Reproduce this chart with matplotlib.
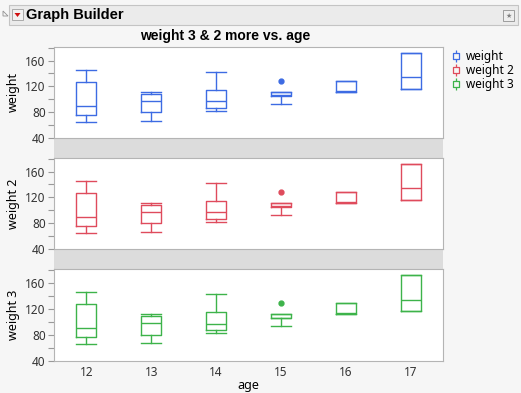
"""
weight / weight 2 / weight 3 by age, box plots in a Graph Builder style frame
"""
import matplotlib
matplotlib.use("Agg")
import matplotlib.pyplot as plt
from matplotlib.patches import Rectangle, Polygon
from matplotlib.lines import Line2D
from matplotlib.path import Path

# data (the three panels show the same numbers)
ages = [12, 13, 14, 15, 16, 17]
whislo = [65, 67, 82, 93, 112, 116]
q1 = [76, 80, 87, 105, 112, 116]
med = [90, 98, 97, 106, 113, 134]
q3 = [127, 108, 114, 112, 128, 172]
whishi = [145, 112, 142, 112, 128, 172]
outliers = [[], [], [], [128], [], []]

series = ["weight", "weight 2", "weight 3"]
colors = ["#3d6be3", "#df4b5c", "#3db34a"]

W, H = 521, 393
bg = "#f6f6f6"
gap_gray = "#dcdcdc"

plt.rcParams["font.family"] = ["Noto Sans", "DejaVu Sans"]
bold_font = ["Liberation Sans", "DejaVu Sans"]


def fx(px):
    return px / W


def fy(py):
    return 1 - py / H


fig = plt.figure(figsize=(W / 100, H / 100), dpi=100, facecolor=bg)

# header bar
fig.patches.append(Rectangle((fx(9), fy(25)), fx(509), 20 / H, transform=fig.transFigure,
                             facecolor="#ebebeb", edgecolor="#c4c4c4", lw=0.8))
fig.patches.append(Polygon([[fx(3), fy(11)], [fx(8), fy(16)], [fx(3), fy(16)]], closed=True,
                           transform=fig.transFigure, facecolor="none", edgecolor="#909090", lw=0.6))
fig.patches.append(Rectangle((fx(12), fy(20)), fx(11), 11 / H, transform=fig.transFigure,
                             facecolor="#f2f2f2", edgecolor="#a0a0a0", lw=0.6))
fig.patches.append(Polygon([[fx(14.5), fy(13)], [fx(20.5), fy(13)], [fx(17.5), fy(17)]], closed=True,
                           transform=fig.transFigure, facecolor="#d01010", edgecolor="none"))
fig.text(fx(26), fy(15), "Graph Builder", fontsize=10.5, fontweight="bold", va="center", ha="left",
         family=bold_font)
fig.patches.append(Rectangle((fx(503), fy(21)), fx(11), 11 / H, transform=fig.transFigure,
                             facecolor="#eeeeee", edgecolor="#909090", lw=0.6))
fig.text(fx(508.5), fy(15.5), "★", fontsize=5, color="#808080", ha="center", va="center",
         family="DejaVu Sans")

fig.text(fx(225), fy(36), "weight 3 & 2 more vs. age", fontsize=10, fontweight="bold",
         ha="center", va="center", family=bold_font)

# gray band behind the panels
fig.patches.append(Rectangle((fx(54), fy(360)), fx(389), 313 / H, transform=fig.transFigure,
                             facecolor=gap_gray, edgecolor="none", zorder=-1))

panels = [(47, 138), (158, 249), (269, 360.5)]
stats = []
for i in range(len(ages)):
    stats.append(dict(whislo=whislo[i], q1=q1[i], med=med[i], q3=q3[i],
                      whishi=whishi[i], fliers=outliers[i]))

for k, (top, bottom) in enumerate(panels):
    ax = fig.add_axes([fx(54), fy(bottom), fx(389), (bottom - top) / H])
    ax.set_facecolor("white")
    c = colors[k]
    ax.bxp(stats, positions=ages, widths=0.31, capwidths=0.31, showfliers=True,
           boxprops=dict(color=c, lw=1.0), whiskerprops=dict(color=c, lw=1.0),
           capprops=dict(color=c, lw=1.0), medianprops=dict(color=c, lw=1.0),
           flierprops=dict(marker="o", markersize=3.5, markerfacecolor=c,
                           markeredgecolor=c))
    ax.set_xlim(11.5, 17.5)
    ax.set_ylim(40, 181)
    ax.set_yticks([40, 80, 120, 160])
    ax.set_yticks([60, 100, 140, 180], minor=True)
    ax.tick_params(axis="y", which="both", direction="out", color="#999999",
                   labelsize=8.5, length=4, width=0.8, pad=2, labelcolor="#333333")
    ax.set_ylabel(series[k], fontsize=9, labelpad=4)
    for s in ax.spines.values():
        s.set_color("#b4b4b4")
        s.set_linewidth(0.8)
    if k < 2:
        ax.tick_params(axis="x", bottom=False, labelbottom=False)
    else:
        ax.set_xticks(ages)
        ax.set_xticklabels([str(a) for a in ages])
        ax.tick_params(axis="x", length=0, labelsize=8.5, pad=4, labelcolor="#333333")

fig.text(fx(248), fy(385), "age", fontsize=9, ha="center", va="center")

# legend with little box icons
icon = Path([(-0.5, -0.5), (0.5, -0.5), (0.5, 0.5), (-0.5, 0.5), (-0.5, -0.5),
             (0, 0.5), (0, 1.0), (0, -0.5), (0, -1.0)],
            [Path.MOVETO, Path.LINETO, Path.LINETO, Path.LINETO, Path.CLOSEPOLY,
             Path.MOVETO, Path.LINETO, Path.MOVETO, Path.LINETO])
handles = [Line2D([], [], ls="none", marker=icon, markersize=9, markerfacecolor="none",
                  markeredgecolor=c, markeredgewidth=0.9) for c in colors]
fig.legend(handles, series, loc="upper left", bbox_to_anchor=(fx(443), fy(43)),
           frameon=False, fontsize=8.5, handlelength=1.0, handletextpad=0.35,
           labelspacing=0.1, borderaxespad=0.2)

fig.savefig("out.png", dpi=100, facecolor=bg)
